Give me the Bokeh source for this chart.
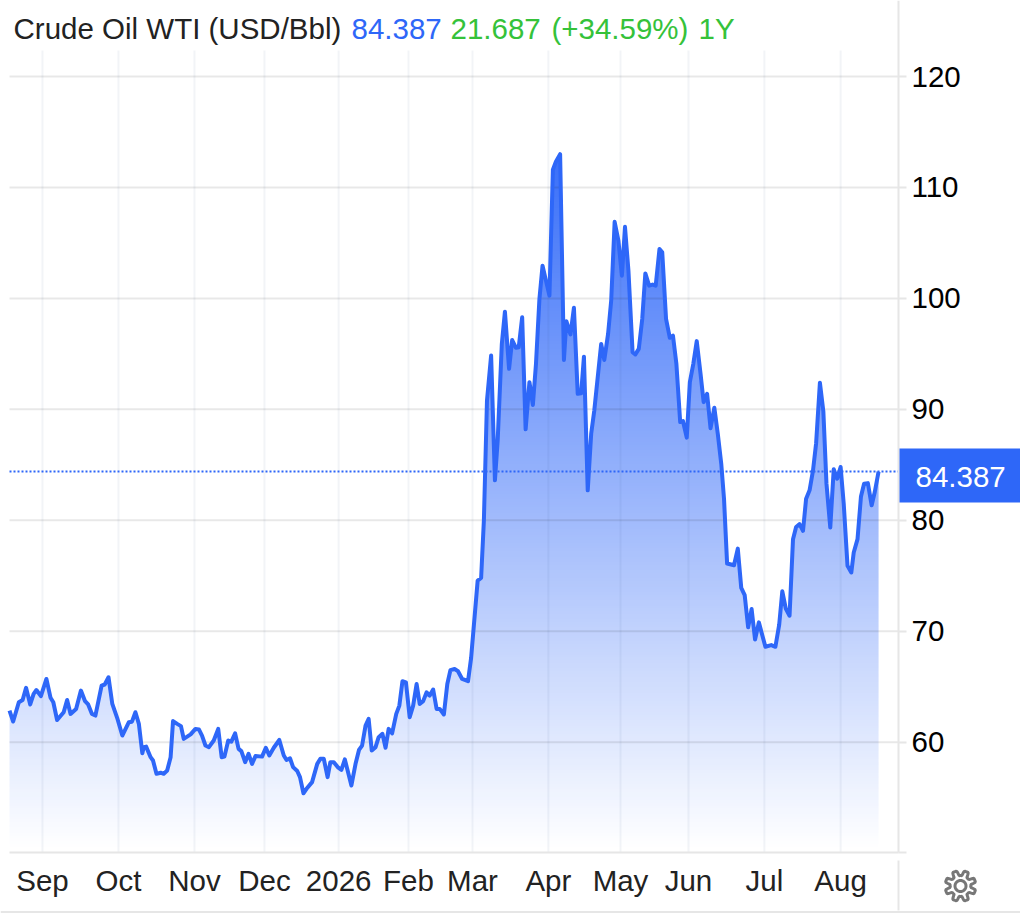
import numpy as np
from bokeh.plotting import figure
from bokeh.models import Range1d, FixedTicker, Label, BoxAnnotation, PolyAnnotation
from bokeh.embed import file_html
from bokeh.resources import INLINE

sessions = [0,1.06,2.7,3.8,4.8,6,7,7.8,9.1,10.7,11.9,12.7,13.8,15.7,16.7,17.7,19.3,20.7,21.9,22.8,23.9,24.9,26.7,27.6,28.7,29.8,31.2,32.7,34.6,35.5,36.5,37.5,38.5,38.9,39.6,40.9,41.6,42.6,43.8,44.7,45.7,46.7,47.4,48.6,49.7,50.5,52.5,53.9,54.9,55.8,56.8,57.8,59.2,60.5,61.5,62.3,63.4,64.3,65.4,66.4,67.2,68.3,69.3,70.3,71.3,73.2,74.3,75.3,76.6,78.2,79.5,80.3,81.3,82.2,83.4,84.2,85.2,86.1,87.7,89.2,90.1,91.1,92.2,93,94,95.3,96.2,97.2,99.1,100.3,101.3,102.2,103.2,104.1,105,106.1,107,108.1,109,109.9,110.9,112.1,113,113.9,114.9,116,117,118,118.9,119.9,120.9,121.8,122.8,123.8,124.7,125.9,126.9,127.8,129,130,131.2,132.9,133.8,135.7,136.7,137.5,138.4,139.6,140.7,141.5,142.7,143.6,144.8,145.7,146.8,147.6,148.6,149.6,150.7,151.7,152.6,153.6,154.5,155.5,156.5,157.5,158.4,159.6,160.7,161.4,162.6,163.6,164.7,165.7,166.5,167.6,168.6,169.5,171.5,172.4,173.5,174.4,175.4,176.5,177.5,178.4,179.4,180.6,181.4,182.4,183.4,184.3,185.4,186.4,187.3,188.4,189.2,190.3,191.4,192.3,193.3,194.4,195.2,196.3,197.2,198.2,199.2,200.3,201.2,202.2,203.2,204.3,205.3,206.3,207.1,208,210,211.1,212.1,213.1,214.1,215.1,216.1,217.2,219.1,220.8,222,223.1,224,225,226.1,227.1,228,229,230,230.9,231.9,232.9,233.8,234.9,235.9,236.8,237.9,238.9,239.9,240.9,241.8,242.9,244,244.7,245.8,246.8,247.7,248.8,249.9,250.8,251.9]
wti_close = [62.85,61.86,63.6,63.8,64.9,63.4,64.36,64.7,64.15,65.7,64.0,63.6,62.0,62.7,63.8,62.55,63.0,64.65,63.7,63.4,62.55,62.4,65.1,65.2,65.85,63.45,62.2,60.6,61.8,61.85,62.7,61.65,59.0,59.55,59.6,58.65,58.35,57.15,57.25,57.15,57.45,58.65,61.9,61.65,61.45,60.3,60.7,61.2,61.15,60.6,59.7,59.55,60.15,61.2,58.65,58.7,60.15,60.05,60.8,59.4,59.2,58.2,58.95,58.05,58.75,58.7,59.5,58.8,59.5,60.2,58.8,58.4,58.55,57.75,57.4,56.85,55.4,55.8,56.4,58.05,58.5,58.5,56.85,58.2,58.2,57.7,57.5,58.45,56.1,58.05,59.3,59.7,61.5,62.1,59.25,59.55,60.45,60.75,59.5,61.2,60.8,62.55,63.3,65.5,65.4,62.25,63.3,65.25,63.45,63.7,64.5,64.2,64.75,63.0,63.0,62.5,65.25,66.5,66.6,66.4,65.7,65.5,67.6,74.57,74.8,80.0,90.8,94.85,83.6,87.2,95.9,98.8,93.65,96.25,95.55,95.6,98.3,88.2,92.45,90.4,94.1,99.95,102.95,101.6,100.25,111.6,112.35,113.0,94.45,97.95,96.75,99.15,91.4,91.45,94.75,82.7,87.8,89.9,95.9,94.45,96.8,99.8,106.9,105.2,102.05,106.45,102.5,95.15,94.95,95.45,98.15,102.25,101.15,101.25,101.15,104.45,104.15,98.15,96.45,96.65,94.1,88.85,88.95,87.45,92.45,94.1,96.15,93.2,90.65,91.4,88.3,90.15,87.8,85.1,81.95,76.1,75.95,77.45,73.9,73.25,70.35,72.0,69.25,70.8,68.6,68.75,68.6,70.6,73.6,72.05,71.4,78.3,79.4,79.65,79.05,81.95,82.7,84.5,86.95,92.4,89.8,83.3,79.35,84.6,83.75,84.8,81.5,75.9,75.3,77.1,78.3,82.15,83.3,83.35,81.35,82.55,84.387]
n = min(len(sessions), len(wti_close))
sessions, wti_close = sessions[:n], wti_close[:n]

month_ticks = [9.57,31.6,53.6,73.9,95.4,115.65,134.2,156.2,177.1,196.8,218.8,240.9]
month_labels = ["Sep","Oct","Nov","Dec","2026","Feb","Mar","Apr","May","Jun","Jul","Aug"]
price_ticks = [60,70,80,90,100,110,120]
last_price = 84.387

BLUE = "#2e67f8"; GREEN = "#35c23a"; INK = "#222222"; RULE = "#e6e6e6"; FONT = "Liberation Sans"
W, H = 1020, 914
# the frame fills the canvas; the axes sit inside it at fixed data locations
X_MIN, X_MAX = -2.609, 293.04
Y_MIN, Y_MAX = 44.47, 126.85
X_AXIS_AT = 257.68      # session at which the price axis stands
Y_AXIS_AT = 50.09       # price at which the month axis stands
grid_top = 122.34

p = figure(width=W, height=H, output_backend="svg", toolbar_location=None,
           x_range=Range1d(X_MIN, X_MAX), y_range=Range1d(Y_MIN, Y_MAX), y_axis_location="right",
           min_border_left=0, min_border_top=0, min_border_right=0, min_border_bottom=0,
           background_fill_color="white", border_fill_color="white", outline_line_color=None)

peak = 113.0
steps = 256
rgba = np.zeros((steps, 1, 4), dtype=np.uint8)
rgba[..., 0] = 0x2e; rgba[..., 1] = 0x67; rgba[..., 2] = 0xf8
rgba[:, 0, 3] = (np.linspace(0, 0.95, steps) * 255).astype(np.uint8)
img = rgba.view(dtype=np.uint32).reshape((steps, 1))
p.image_rgba(image=[img], x=sessions[0], y=Y_AXIS_AT, dw=sessions[-1]-sessions[0], dh=peak-Y_AXIS_AT, level="image")
p.varea(x=[sessions[0]-2]+sessions+[sessions[-1]+2], y1=[wti_close[0]]+wti_close+[wti_close[-1]],
        y2=[Y_MAX]*(n+2), fill_color="white", level="image")

p.xgrid.visible = False
p.ygrid.visible = False
p.segment(x0=[0]*7, x1=[X_AXIS_AT]*7, y0=price_ticks, y1=price_ticks,
          line_color="black", line_alpha=0.09, line_width=2, level="underlay")
p.segment(x0=month_ticks, x1=month_ticks, y0=[Y_AXIS_AT]*12, y1=[grid_top]*12,
          line_color="#1e4678", line_alpha=0.06, line_width=2, level="underlay")

p.segment(x0=[0], x1=[X_AXIS_AT], y0=[last_price], y1=[last_price],
          line_color=BLUE, line_width=2, line_dash="2 2")
p.line(sessions, wti_close, line_color=BLUE, line_width=4, line_join="round")

ax = p.yaxis[0]
ax.fixed_location = X_AXIS_AT
ax.bounds = (Y_AXIS_AT, Y_MAX)
ax.ticker = FixedTicker(ticks=price_ticks)
ax.major_label_text_font = FONT; ax.major_label_text_font_size = "29.5px"; ax.major_label_text_color = "black"
ax.axis_line_color = RULE; ax.axis_line_width = 2
ax.major_tick_line_color = RULE; ax.major_tick_line_width = 2; ax.major_tick_in = 0; ax.major_tick_out = 8
ax.minor_tick_line_color = None; ax.major_label_standoff = 5

bx = p.xaxis[0]
bx.fixed_location = Y_AXIS_AT
bx.bounds = (0, X_AXIS_AT)
bx.ticker = FixedTicker(ticks=month_ticks)
bx.major_label_overrides = dict(zip(month_ticks, month_labels))
bx.major_label_text_font = FONT; bx.major_label_text_font_size = "29.5px"; bx.major_label_text_color = INK
bx.axis_line_color = RULE; bx.axis_line_width = 2
bx.major_tick_line_color = None; bx.minor_tick_line_color = None; bx.major_label_standoff = 6

def sx(px): return px
def sy(py): return H - py

def text(s, px, py, color, size="29.5px"):
    p.add_layout(Label(x=sx(px), y=sy(py), x_units="screen", y_units="screen", text=s, text_color=color,
                       text_font=FONT, text_font_size=size, text_baseline="alphabetic"))

def box(l, r, t, b, color):
    p.add_layout(BoxAnnotation(left=sx(l), right=sx(r), top=sy(t), bottom=sy(b),
                               left_units="screen", right_units="screen", top_units="screen", bottom_units="screen",
                               fill_color=color, fill_alpha=1, line_color=None, level="annotation"))

box(899, 1020, 448, 502, BLUE)
box(897, 899, 860, 910, RULE)
box(0, 1020, 910.5, 912.5, RULE)
box(898, 906, 851, 853, RULE)

text("Crude Oil WTI (USD/Bbl)", 13, 28, INK)
text("84.387", 351, 28, BLUE)
text("21.687", 450, 28, GREEN)
text("(+34.59%)", 551, 28, GREEN)
text("1Y", 698, 28, GREEN)
text("84.387", 915, 476.5, "white")

cx, cy = 960, 885.5
ang = np.linspace(0, 2*np.pi, 8*24, endpoint=False) + np.pi/8
wave = np.clip(np.cos(8*(ang - np.pi/8)) * 2.2, -1, 1)
rad = 12.9 + 2.5 * wave
p.add_layout(PolyAnnotation(xs=list(sx(cx + rad*np.sin(ang))), ys=list(sy(cy - rad*np.cos(ang))),
                            xs_units="screen", ys_units="screen", fill_alpha=0,
                            line_color="#777777", line_alpha=1, line_width=3))
c = np.linspace(0, 2*np.pi, 40, endpoint=False)
p.add_layout(PolyAnnotation(xs=list(sx(cx + 5.5*np.cos(c))), ys=list(sy(cy + 5.5*np.sin(c))),
                            xs_units="screen", ys_units="screen", fill_alpha=0,
                            line_color="#777777", line_alpha=1, line_width=3))

open("out.html", "w").write(file_html(p, INLINE))
